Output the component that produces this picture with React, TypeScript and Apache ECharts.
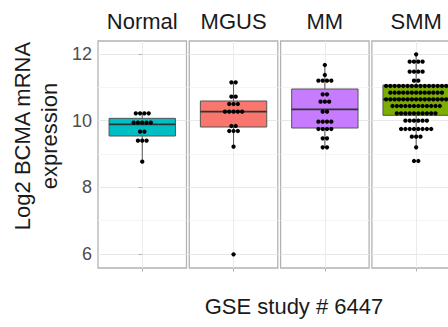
import React, { useEffect, useRef } from 'react';
import * as echarts from 'echarts';

// ---- data ----
const groups = ['Normal', 'MGUS', 'MM', 'SMM'];
const boxColors = ['#00BFC4', '#F8766D', '#C77CFF', '#7CAE00'];

// [lower whisker, Q1, median, Q3, upper whisker]
const normalBox = [8.77, 9.54, 9.89, 10.07, 10.22];
const mgusBox = [9.22, 9.81, 10.27, 10.59, 11.15];
const mmBox = [9.2, 9.78, 10.34, 10.95, 11.67];
const smmBox = [9.2, 10.16, 10.64, 11.07, 11.99];

// dot-plot rows: [value, number of stacked dots]
const normalDots = [[10.22, 4], [9.94, 5], [9.67, 2], [9.4, 3], [8.77, 1]];
const mgusDots = [[11.15, 2], [10.72, 2], [10.5, 3], [10.27, 5], [9.84, 2], [9.69, 3], [9.22, 1], [5.99, 1]];
const mmDots = [[11.67, 1], [11.37, 1], [11.2, 4], [10.79, 2], [10.57, 3], [10.27, 2], [9.97, 4], [9.75, 4], [9.47, 2], [9.2, 2]];
const smmDots = [[11.99, 1], [11.77, 4], [11.47, 4], [11.2, 2], [11.04, 15], [10.84, 13], [10.64, 15], [10.44, 12], [10.22, 10], [10.0, 6], [9.75, 8], [9.52, 3], [9.2, 1], [8.79, 2]];

const yTicks = [6, 8, 10, 12];
const yMinorTicks = [7, 9, 11];
const yMin = 5.58;
const yMax = 12.39;

const yTitle = 'Log2 BCMA mRNA\nexpression';
const xTitle = 'GSE study # 6447';

const allBoxes = [normalBox, mgusBox, mmBox, smmBox];
const allDots = [normalDots, mgusDots, mmDots, smmDots];

// ---- layout / style ----
const W = 448;
const H = 327;
const PANEL_LEFT = 98;
const PANEL_STEP = 91.3;
const PANEL_W = 88.5;
const PANEL_TOP = 41;
const PANEL_H = 227;
const BOX_HALF = 0.45;
const DOT_D = 4.3;
const FONT = '"Liberation Sans", Arial, Helvetica, sans-serif';

function buildOption() {
  const grid: any[] = [];
  const xAxis: any[] = [];
  const yAxis: any[] = [];
  const series: any[] = [];
  const graphic: any[] = [];

  groups.forEach((g, i) => {
    const left = PANEL_LEFT + i * PANEL_STEP;
    grid.push({
      left,
      top: PANEL_TOP,
      width: PANEL_W,
      height: PANEL_H,
      show: true,
      borderColor: '#b3b3b3',
      borderWidth: 1.3,
      backgroundColor: 'transparent',
      containLabel: false,
      outerBoundsMode: 'none',
    });
    xAxis.push({
      type: 'value',
      gridIndex: i,
      min: -0.6,
      max: 0.6,
      interval: 0.6,
      axisLine: { show: false },
      axisLabel: { show: false },
      axisTick: { show: true, length: 3.5, customValues: [0], lineStyle: { color: '#b3b3b3', width: 1 } },
      splitLine: { show: true, lineStyle: { color: '#ebebeb', width: 1 } },
    });
    // major y axis
    yAxis.push({
      type: 'value',
      gridIndex: i,
      min: yMin,
      max: yMax,
      axisLine: { show: false },
      axisTick: { show: i === 0, length: 3.5, customValues: yTicks, lineStyle: { color: '#b3b3b3', width: 1 } },
      axisLabel: {
        show: i === 0,
        customValues: yTicks,
        color: '#4d4d4d',
        fontSize: 18,
        fontFamily: FONT,
        margin: 6,
      },
      splitLine: { show: true, lineStyle: { color: '#e8e8e8', width: 1 } },
    });
    // minor grid lines
    yAxis.push({
      type: 'value',
      gridIndex: i,
      position: 'left',
      min: yMin,
      max: yMax,
      axisLine: { show: false },
      axisTick: { show: false, customValues: yMinorTicks },
      axisLabel: { show: false, customValues: yMinorTicks },
      splitLine: { show: true, lineStyle: { color: '#f2f2f2', width: 0.8 } },
    });

    const box = allBoxes[i];
    series.push({
      type: 'custom',
      coordinateSystem: 'cartesian2d',
      xAxisIndex: i,
      yAxisIndex: i * 2,
      z: 2,
      data: [[0, ...box]],
      renderItem: (params: any, api: any) => {
        const low = api.value(1);
        const q1 = api.value(2);
        const med = api.value(3);
        const q3 = api.value(4);
        const high = api.value(5);
        const pLow = api.coord([0, low]);
        const pHigh = api.coord([0, high]);
        const tl = api.coord([-BOX_HALF, q3]);
        const br = api.coord([BOX_HALF, q1]);
        const ml = api.coord([-BOX_HALF, med]);
        const mr = api.coord([BOX_HALF, med]);
        return {
          type: 'group',
          children: [
            {
              type: 'line',
              shape: { x1: pLow[0], y1: pLow[1], x2: pHigh[0], y2: pHigh[1] },
              style: { stroke: '#555555', lineWidth: 1 },
            },
            {
              type: 'rect',
              shape: { x: tl[0], y: tl[1], width: br[0] - tl[0], height: br[1] - tl[1] },
              style: { fill: boxColors[i], stroke: '#555555', lineWidth: 1 },
            },
            {
              type: 'line',
              shape: { x1: ml[0], y1: ml[1], x2: mr[0], y2: mr[1] },
              style: { stroke: '#333333', lineWidth: 1.6 },
            },
          ],
        };
      },
    });

    const dotData: number[][] = [];
    allDots[i].forEach(([v, n]) => {
      for (let k = 0; k < n; k++) dotData.push([0, v, k, n]);
    });
    series.push({
      type: 'custom',
      coordinateSystem: 'cartesian2d',
      xAxisIndex: i,
      yAxisIndex: i * 2,
      z: 3,
      clip: false,
      data: dotData,
      renderItem: (params: any, api: any) => {
        const v = api.value(1);
        const k = api.value(2);
        const n = api.value(3);
        const p = api.coord([0, v]);
        return {
          type: 'circle',
          shape: { cx: p[0] + (k - (n - 1) / 2) * DOT_D, cy: p[1], r: DOT_D / 2 },
          style: { fill: '#000000' },
        };
      },
    });

    graphic.push({
      type: 'text',
      x: left + PANEL_W / 2,
      y: 21,
      style: {
        text: g,
        align: 'center',
        verticalAlign: 'middle',
        fontSize: 22,
        fontFamily: FONT,
        fill: '#1a1a1a',
      },
    });
  });

  graphic.push({
    type: 'text',
    x: 36,
    y: 136,
    rotation: Math.PI / 2,
    style: {
      text: yTitle,
      align: 'center',
      verticalAlign: 'middle',
      fontSize: 22,
      lineHeight: 27,
      fontFamily: FONT,
      fill: '#1a1a1a',
    },
  });
  graphic.push({
    type: 'text',
    x: 294,
    y: 306,
    style: {
      text: xTitle,
      align: 'center',
      verticalAlign: 'middle',
      fontSize: 22,
      fontFamily: FONT,
      fill: '#1a1a1a',
    },
  });

  return {
    animation: false,
    backgroundColor: '#ffffff',
    grid,
    xAxis,
    yAxis,
    series,
    graphic,
  };
}

export default function App() {
  const ref = useRef<HTMLDivElement>(null);
  useEffect(() => {
    if (!ref.current) return;
    const chart = echarts.init(ref.current, null, { renderer: 'svg', width: W, height: H });
    chart.setOption(buildOption() as any);
    return () => chart.dispose();
  }, []);
  return (
    <div
      ref={ref}
      style={{ position: 'fixed', left: 0, top: 0, width: W, height: H, overflow: 'hidden', background: '#fff' }}
    />
  );
}
